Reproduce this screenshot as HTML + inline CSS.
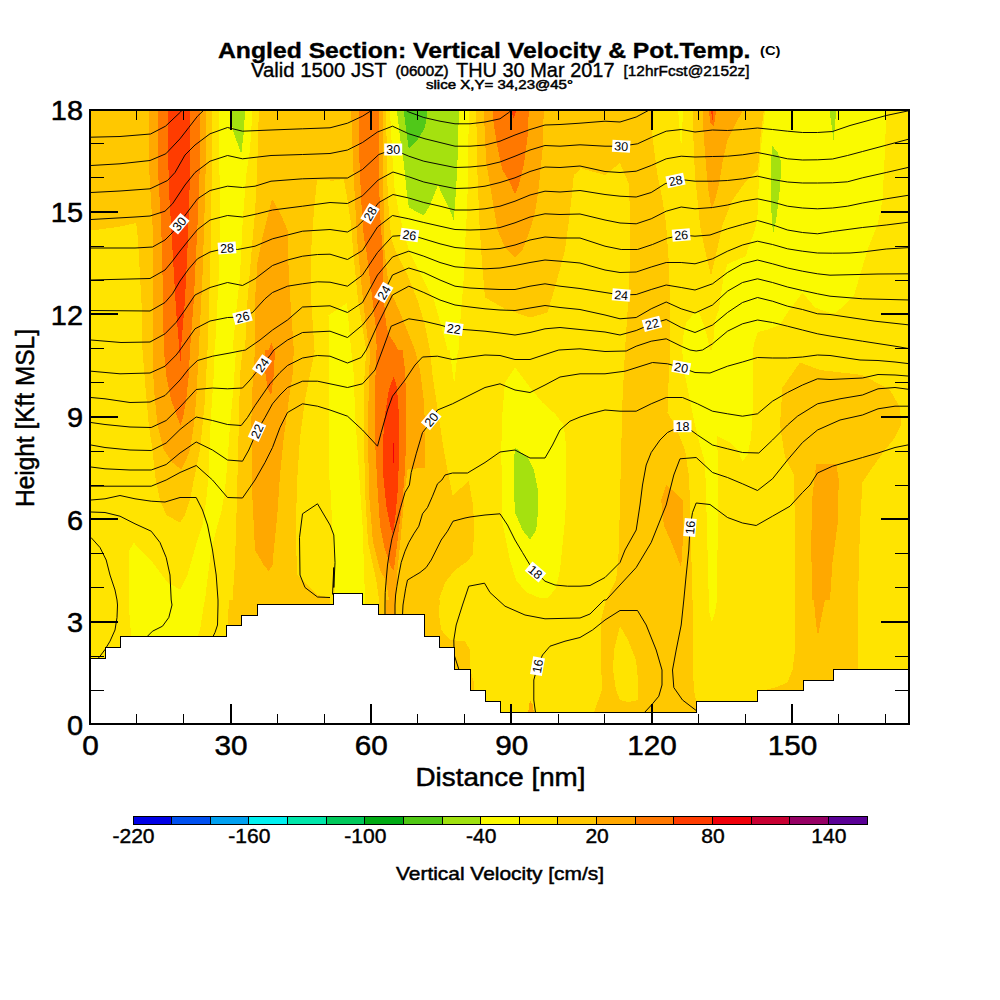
<!DOCTYPE html><html><head><meta charset="utf-8"><title>Angled Section</title>
<style>html,body{margin:0;padding:0;background:#fff}svg{display:block}text{font-family:"Liberation Sans",sans-serif;fill:#000}</style></head><body>
<svg width="1000" height="1000" viewBox="0 0 1000 1000">
<rect width="1000" height="1000" fill="#fff"/>
<defs><clipPath id="pc"><rect x="90.10" y="109.75" width="818.90" height="614.00"/></clipPath></defs>
<g clip-path="url(#pc)" shape-rendering="crispEdges">
<rect x="90" y="109" width="820" height="616" fill="#ffe400"/>
<polygon fill="#fafa00" points="218.8,111.0 252.5,111.0 250.0,150.0 246.2,175.0 242.5,225.0 240.0,275.0 236.2,312.5 232.5,350.0 215.0,350.0 216.2,325.0 218.8,275.0 220.0,225.0 219.5,175.0"/>
<polygon fill="#fafa00" points="328.5,315.5 347.0,303.0 348.8,325.0 351.2,350.0 328.5,350.0"/>
<polygon fill="#fafa00" points="390.0,111.0 468.8,111.0 468.0,175.0 467.0,212.5 466.0,225.0 464.0,275.0 462.0,300.0 460.0,325.0 458.8,350.0 447.5,350.0 441.0,325.0 433.8,300.0 421.0,275.0 408.8,250.0 403.8,232.5 398.8,212.5 394.5,187.5 392.0,150.0"/>
<polygon fill="#fafa00" points="678.2,111.0 683.0,111.0 681.2,150.0"/>
<polygon fill="#fafa00" points="765.0,111.0 830.0,111.0 830.0,313.0 815.0,307.5 802.5,292.5 787.5,312.5 780.0,325.0 766.2,330.0 758.0,332.0 755.0,340.0 753.0,350.0 712.0,350.0 713.8,337.5 715.0,320.0 718.8,310.0 721.0,294.0 723.8,275.0 727.5,264.0 746.0,256.0 747.5,250.0 755.0,230.0 758.0,212.5 758.8,175.0 762.0,137.5"/>
<polygon fill="#fafa00" points="696.2,311.2 700.0,315.0 703.8,325.0 707.5,337.5 710.0,350.0 682.0,350.0 683.0,337.5 686.2,322.5"/>
<polygon fill="#fafa00" points="830.0,111.0 886.2,111.0 885.0,150.0 882.5,200.0 877.5,225.0 867.5,250.0 860.0,275.0 853.8,296.2 845.0,305.0 835.0,313.0 830.0,313.0"/>
<polygon fill="#fafa00" points="214.5,350.0 236.0,350.0 233.5,387.5 230.0,425.0 227.5,462.5 225.0,490.0 221.2,512.5 216.2,530.0 211.2,550.0 208.0,575.0 205.0,600.0 129.2,600.0 129.5,550.0 133.8,542.5 140.0,550.0 152.5,562.5 167.5,582.5 180.0,589.5 187.5,575.0 192.5,557.5 197.5,540.0 202.5,525.0 206.2,500.0 208.8,475.0 209.5,450.0 210.5,425.0 212.0,400.0 213.8,375.0"/>
<polygon fill="#fafa00" points="328.5,350.0 351.2,350.0 353.8,375.0 355.0,412.5 357.5,450.0 360.0,487.5 362.5,525.0 363.8,562.5 365.0,600.0 335.0,600.0 333.5,550.0 330.5,490.0 328.5,470.0"/>
<polygon fill="#fafa00" points="449.5,350.0 458.0,350.0 454.2,383.8"/>
<polygon fill="#fafa00" points="515.0,367.5 530.0,387.5 542.5,402.5 555.0,413.8 563.8,425.0 566.5,450.0 566.0,500.0 565.0,520.0 563.0,540.0 560.0,570.0 556.0,588.0 548.0,598.0 540.0,598.0 526.0,592.0 516.0,580.0 510.0,560.0 506.0,540.0 502.0,520.0 502.0,487.5 501.2,450.0 502.5,412.5 505.0,382.5"/>
<polygon fill="#fafa00" points="682.0,350.0 753.0,350.0 752.5,375.0 752.5,412.5 751.2,437.5 747.5,455.0 742.5,461.2 737.5,450.0 730.0,442.5 717.0,436.2 717.5,450.0 717.5,500.0 717.5,550.0 717.0,600.0 708.8,600.0 707.5,550.0 706.2,500.0 705.0,462.5 700.0,445.0 695.0,425.0 690.0,400.0 685.0,375.0"/>
<polygon fill="#fafa00" points="129.2,600.0 205.0,600.0 203.8,605.0 200.0,630.0 197.5,637.5 131.2,637.5 128.8,605.0"/>
<polygon fill="#fafa00" points="335.0,600.0 365.0,600.0 365.5,605.0 335.0,605.0"/>
<polygon fill="#fafa00" points="708.8,600.0 717.0,600.0 715.0,612.5 711.8,622.5 709.5,612.5"/>
<polygon fill="#ffc800" points="91.0,111.0 211.8,111.0 211.8,162.5 211.2,225.0 210.0,275.0 207.5,350.0 142.5,350.0 142.0,312.5 140.0,275.0 138.0,240.0 136.2,223.0 117.5,227.0 91.0,230.5"/>
<polygon fill="#ffc800" points="258.8,111.0 330.0,111.0 330.0,180.5 317.0,179.5 313.8,212.5 311.2,250.0 311.2,300.0 314.5,350.0 245.0,350.0 247.5,300.0 252.5,240.0 255.0,212.5 257.0,175.0"/>
<polygon fill="#ffc800" points="330.0,111.0 386.2,111.0 387.0,175.0 388.8,212.5 391.2,237.5 395.0,250.0 407.5,275.0 417.5,300.0 425.0,325.0 430.0,350.0 366.2,350.0 358.0,300.0 353.0,250.0 351.2,225.0 347.5,200.0 343.8,178.8 330.0,181.2"/>
<polygon fill="#ffc800" points="476.2,111.0 580.0,111.0 580.0,170.0 573.8,175.0 570.0,212.5 565.0,250.0 555.0,287.5 547.5,312.5 530.0,317.5 505.0,308.8 485.0,297.5 482.0,262.5 479.5,225.0 477.5,175.0"/>
<polygon fill="#ffc800" points="580.0,111.0 651.2,111.0 652.5,137.5 657.5,175.0 662.5,200.0 666.2,225.0 668.8,262.5 670.0,300.0 670.5,350.0 625.0,350.0 627.5,312.5 630.0,262.5 630.0,212.5 628.8,183.8 620.0,163.0 605.0,175.0 580.0,168.0"/>
<polygon fill="#ffc800" points="692.5,111.0 763.8,111.0 760.5,137.5 758.0,170.0 745.0,182.5 732.5,200.0 722.5,225.0 717.0,250.0 711.0,275.8 705.0,250.0 700.0,225.0 697.5,200.0 695.0,175.0 693.8,150.0"/>
<polygon fill="#ffc800" points="142.5,350.0 207.5,350.0 206.2,375.0 205.0,400.0 202.5,425.0 200.0,450.0 197.5,462.5 193.8,480.0 190.0,500.0 185.0,515.0 180.0,522.5 166.2,515.0 160.0,500.0 155.0,475.0 152.5,450.0 148.8,425.0 145.5,387.5"/>
<polygon fill="#ffc800" points="242.5,350.0 315.0,350.0 310.0,375.0 305.0,400.0 300.0,437.5 297.5,475.0 296.2,512.5 296.2,550.0 297.5,575.0 317.5,595.0 330.0,597.5 330.0,600.0 232.5,600.0 235.0,562.5 236.2,525.0 237.5,475.0 238.8,425.0 240.0,375.0"/>
<polygon fill="#ffc800" points="366.2,350.0 430.0,350.0 432.5,375.0 436.2,400.0 440.0,425.0 443.8,450.0 447.5,470.0 452.5,495.5 468.8,481.2 473.0,505.0 474.5,530.0 472.5,555.0 467.5,561.2 455.0,570.0 445.0,582.5 438.8,600.0 379.2,600.0 376.2,580.0 368.0,542.5 365.5,500.0 364.5,462.5 363.8,425.0 363.8,387.5"/>
<polygon fill="#ffc800" points="625.0,350.0 670.5,350.0 668.8,375.0 667.5,412.5 675.0,425.0 680.0,437.5 685.0,450.0 688.8,475.0 690.0,500.0 691.2,550.0 692.5,600.0 606.0,600.0 616.0,580.0 618.0,562.5 618.8,550.0 620.0,500.0 621.2,450.0 622.5,400.0"/>
<polygon fill="#ffc800" points="782.5,387.5 800.0,362.5 820.0,370.0 862.5,375.0 890.0,390.0 900.0,407.5 901.2,425.0 895.0,437.5 885.0,450.0 872.5,467.5 862.5,482.5 860.0,525.0 858.0,600.0 795.0,600.0 795.0,525.0 793.8,475.0 785.0,457.5 780.0,425.0"/>
<polygon fill="#ffc800" points="229.2,600.0 330.0,600.0 330.0,637.5 227.0,637.5 228.0,615.0"/>
<polygon fill="#ffc800" points="379.2,600.0 440.0,600.0 438.8,612.5 441.2,630.0 450.0,640.0 465.0,641.2 470.0,650.0 470.5,670.0 473.8,682.5 473.8,691.2 453.8,691.2 453.8,647.5 423.8,647.5 423.8,616.2 379.2,616.2"/>
<polygon fill="#ffc800" points="606.0,600.0 692.5,600.0 693.0,625.0 692.5,650.0 693.8,690.0 696.2,701.2 696.2,712.5 593.8,712.5 602.0,690.0 601.0,660.0 601.0,620.0"/>
<polygon fill="#ffc800" points="795.0,600.0 858.0,600.0 858.0,670.0 832.5,670.0 832.5,681.2 802.5,681.2 802.5,691.2 760.0,691.2 775.0,687.5 787.5,682.5 792.5,670.0 795.0,650.0"/>
<polygon fill="#ffa800" points="148.8,111.0 205.8,111.0 205.8,162.5 204.2,225.0 202.5,275.0 198.8,350.0 152.5,350.0 152.5,300.0 152.5,225.0 149.5,175.0"/>
<polygon fill="#ffa800" points="272.0,198.8 280.0,212.5 287.5,230.0 288.8,275.0 291.2,312.5 293.8,350.0 255.0,350.0 255.0,300.0 257.5,262.5 262.5,237.5"/>
<polygon fill="#ffa800" points="351.2,111.0 382.5,111.0 383.0,175.0 383.8,212.5 384.5,250.0 388.8,287.5 400.0,312.5 410.0,337.5 415.0,350.0 370.0,350.0 367.5,337.5 363.0,300.0 358.0,250.0 357.0,237.5 355.0,200.0 353.0,162.5"/>
<polygon fill="#ffa800" points="483.8,111.0 543.8,111.0 542.5,150.0 538.8,187.5 535.0,212.5 530.0,230.0 522.5,250.0 515.0,257.0 505.0,247.5 497.5,230.0 492.5,200.0 486.2,162.5"/>
<polygon fill="#ffa800" points="702.5,111.0 742.5,111.0 735.0,125.0 727.5,140.0 722.5,162.5 718.8,185.0 715.0,200.0 711.5,209.2 708.0,187.5 705.8,162.5 703.8,137.5"/>
<polygon fill="#ffa800" points="152.5,350.0 198.8,350.0 197.5,375.0 196.2,400.0 193.8,425.0 190.0,450.0 185.0,462.5 181.2,469.5 172.5,462.5 163.8,450.0 157.5,425.0 153.8,387.5"/>
<polygon fill="#ffa800" points="255.0,350.0 293.8,350.0 292.5,375.0 288.8,400.0 283.8,437.5 280.0,475.0 277.5,512.5 273.8,550.0 272.5,565.0 268.8,571.2 263.8,565.0 255.0,550.0 252.5,500.0 252.0,462.5 251.2,425.0 252.5,387.5"/>
<polygon fill="#ffa800" points="370.0,350.0 415.0,350.0 420.0,370.0 423.8,400.0 425.0,425.0 425.0,467.5 407.5,469.5 405.0,490.0 403.0,512.5 400.5,540.0 397.5,570.0 395.5,600.0 388.8,600.0 388.0,592.5 385.5,580.0 380.0,570.0 373.0,542.5 369.5,500.0 368.5,462.5 368.0,425.0 368.8,387.5"/>
<polygon fill="#ffa800" points="666.2,485.0 675.0,492.5 682.5,500.0 683.0,537.5 681.2,567.5 672.5,545.0 663.8,525.0 661.2,500.0"/>
<polygon fill="#ffa800" points="816.2,463.8 836.2,463.8 838.8,480.0 837.5,525.0 832.5,562.5 830.0,600.0 812.5,600.0 811.2,550.0 812.0,500.0 815.0,475.0"/>
<polygon fill="#ffa800" points="385.5,600.0 395.5,600.0 394.5,616.2 386.5,616.2"/>
<polygon fill="#ffa800" points="530.0,700.0 533.0,705.0 533.8,712.5 528.2,712.5"/>
<polygon fill="#ffa800" points="811.2,600.0 825.0,600.0 820.0,625.0 818.0,636.2 816.2,625.0 813.8,600.0"/>
<polygon fill="#ff7800" points="158.2,111.0 200.0,111.0 199.5,175.0 197.5,225.0 193.8,300.0 190.0,350.0 163.8,350.0 162.5,275.0 161.2,225.0 158.2,175.0"/>
<polygon fill="#ff7800" points="271.2,342.5 273.8,350.0 268.8,350.0"/>
<polygon fill="#ff7800" points="358.8,111.0 378.8,111.0 378.8,175.0 380.0,212.5 382.5,250.0 383.8,300.0 386.2,325.0 388.8,335.0 395.0,343.8 398.0,350.0 376.8,350.0 375.5,325.0 372.5,300.0 366.2,250.0 363.8,237.5 361.2,200.0 359.5,162.5"/>
<polygon fill="#ff7800" points="492.5,111.0 528.8,111.0 527.5,137.5 523.8,165.0 518.8,185.0 515.0,194.5 510.0,182.5 502.5,170.0 498.0,150.0 493.8,125.0"/>
<polygon fill="#ff7800" points="708.8,111.0 716.2,111.0 713.8,126.2 710.5,122.5"/>
<polygon fill="#ff7800" points="163.8,350.0 190.0,350.0 188.8,375.0 186.2,400.0 183.0,417.5 180.5,425.0 177.5,417.5 171.2,400.0 166.2,375.0"/>
<polygon fill="#ff7800" points="265.0,350.0 275.0,350.0 273.8,375.0 271.2,395.0 267.5,387.5 265.0,370.0"/>
<polygon fill="#ff7800" points="376.2,350.0 402.5,350.0 405.0,370.0 406.2,400.0 406.2,437.5 405.0,470.0 402.5,500.0 398.8,530.0 395.5,557.5 393.8,570.0 391.2,567.5 385.0,550.0 380.0,525.0 377.5,487.5 375.5,450.0 375.0,412.5 375.5,375.0"/>
<polygon fill="#ff3c00" points="167.5,111.0 190.5,111.0 190.0,175.0 188.0,237.5 185.0,300.0 180.8,350.0 179.5,350.0 176.2,312.5 172.5,250.0 168.8,187.5"/>
<polygon fill="#ff3c00" points="511.2,111.0 516.2,111.0 513.8,118.8"/>
<polygon fill="#ff3c00" points="711.0,111.0 713.5,111.0 712.5,120.0"/>
<polygon fill="#ff3c00" points="179.2,350.0 181.2,350.0 180.5,361.2"/>
<polygon fill="#ff3c00" points="393.8,376.2 397.0,387.5 398.8,412.5 399.2,450.0 398.0,487.5 395.5,515.0 393.0,534.5 390.0,525.0 386.2,505.0 383.2,475.0 382.5,450.0 384.5,417.5 388.8,390.0"/>
<polygon fill="#f0000a" points="392.5,442.5 393.8,442.5 393.8,462.5 392.5,462.5"/>
<polygon fill="#a5e10f" points="230.0,111.0 245.0,111.0 243.8,132.5 241.2,154.5 233.0,130.0"/>
<polygon fill="#a5e10f" points="397.0,111.0 458.8,111.0 458.0,150.0 456.2,187.5 453.8,221.2 450.0,210.0 442.5,195.0 438.0,185.0 430.0,205.0 423.8,215.5 408.8,207.5 406.2,187.5 403.8,162.5 400.0,137.5"/>
<polygon fill="#a5e10f" points="772.0,145.8 777.0,151.2 781.5,162.5 780.0,187.5 776.2,220.0 773.0,233.8 771.5,212.5 771.2,162.5"/>
<polygon fill="#a5e10f" points="829.5,111.0 836.2,111.0 835.0,125.0 833.5,140.5 831.5,125.0"/>
<polygon fill="#a5e10f" points="515.0,447.5 527.5,457.5 533.8,470.0 537.5,487.5 538.0,512.5 536.2,530.0 530.0,539.5 522.5,530.0 515.0,512.5 513.8,487.5 513.8,462.5"/>
<polygon fill="#50c819" points="403.8,111.0 427.5,111.0 425.0,127.5 417.5,140.0 408.8,148.8 406.2,130.0"/>
<polygon fill="#ffe400" points="620.0,626.0 628.0,640.0 636.0,660.0 638.0,680.0 638.0,700.0 628.0,702.0 620.0,700.0 616.0,690.0 613.0,670.0 614.0,650.0"/>
</g>
<g clip-path="url(#pc)" fill="none" stroke="#000" stroke-width="0.95" stroke-linejoin="round">
<polyline points="91.0,137.2 120.0,136.5 150.5,134.0 165.5,126.2 180.5,112.0 183.0,109.0"/>
<polyline points="91.0,165.5 120.0,163.8 150.0,160.5 165.8,153.8 180.0,138.8 188.8,127.5 197.5,116.2 205.0,109.0"/>
<polyline points="91.0,192.5 120.0,191.0 150.0,188.8 167.5,180.5 175.0,172.5 185.0,155.0 195.0,145.0 210.0,133.8 227.5,127.5 242.5,131.2 271.0,130.0 302.5,128.8 330.0,127.8 347.5,123.2 362.5,116.2 373.8,109.0"/>
<polyline points="403.8,109.0 408.8,112.0 423.8,117.5 440.0,121.2 455.0,123.8 470.0,123.8 485.0,122.0 500.0,118.8 508.8,112.5 512.5,109.0"/>
<polyline points="91.0,219.5 135.0,217.0 150.0,216.0 165.0,211.2 172.5,203.8 185.0,185.0 195.0,172.5 210.0,161.2 227.5,155.5 242.5,158.8 271.0,155.5 302.5,154.5 330.0,153.5 347.5,150.0 362.5,142.5 377.5,132.0 392.5,126.2 408.8,133.8 425.0,138.8 440.0,142.5 455.0,146.2 470.0,146.2 485.0,145.0 500.0,141.2 515.0,135.0 530.0,129.5 545.0,125.0 560.0,124.5 580.0,123.2 605.0,121.2 620.0,122.0 636.2,117.0 651.2,109.0"/>
<polyline points="91.0,248.0 135.0,248.0 152.5,247.0 165.0,240.0 172.5,232.5 186.2,213.8 197.5,198.8 210.0,190.5 227.5,186.2 242.5,187.5 255.0,186.2 271.0,181.2 302.5,178.8 330.0,178.0 347.5,178.0 362.5,169.5 378.8,154.5 393.2,149.5 408.8,156.2 423.8,161.2 440.0,164.5 455.0,167.5 470.0,167.0 485.0,165.5 500.0,162.0 515.0,156.2 530.0,150.0 545.0,145.5 560.0,146.2 580.0,144.8 605.0,146.2 621.2,146.2 637.5,143.8 651.2,137.5 666.2,131.2 681.2,129.5 695.0,132.0 712.5,130.0 727.5,130.5 742.5,129.5 757.5,128.0 772.5,129.5 787.5,131.2 802.5,132.5 817.5,132.5 832.5,131.5 850.0,125.5 870.0,120.0 886.2,115.5 910.0,110.5"/>
<polyline points="91.0,280.0 150.0,278.5 165.0,270.0 172.5,261.0 180.0,251.0 188.8,240.0 197.5,229.5 210.0,220.0 227.5,215.5 242.5,217.0 257.5,213.8 272.5,210.0 302.5,206.2 330.0,202.5 347.5,203.5 362.5,195.8 378.2,180.0 393.0,172.0 408.8,176.8 423.8,182.0 440.0,185.5 455.0,188.5 470.0,188.0 485.0,186.2 500.0,182.5 515.0,177.8 530.0,171.5 545.0,167.0 560.0,167.5 580.0,166.0 605.0,171.5 620.0,172.5 636.2,171.2 651.2,165.5 666.2,158.8 681.2,156.2 695.0,157.0 712.5,156.5 727.5,156.2 742.5,154.8 757.5,152.5 772.5,155.5 787.5,158.8 802.5,160.0 817.5,159.8 832.5,159.0 847.5,155.5 862.5,151.5 886.2,145.2 910.0,138.8"/>
<polyline points="91.0,310.5 150.0,311.0 165.0,302.5 172.5,293.8 180.0,281.0 188.8,268.8 197.5,258.8 210.0,252.0 227.0,248.0 237.5,249.5 255.0,246.2 272.5,238.8 287.5,235.0 302.5,231.2 330.0,229.5 347.5,232.0 357.5,226.2 370.0,213.8 378.8,202.5 393.0,194.5 408.8,198.0 423.8,202.5 440.0,206.2 455.0,210.0 470.0,210.0 485.0,208.8 500.0,206.2 515.0,201.2 530.0,195.0 545.0,191.2 560.0,192.0 580.0,190.5 605.0,194.5 620.0,196.2 636.2,197.0 651.2,192.5 665.0,183.8 675.5,180.5 685.0,180.0 695.0,181.2 712.5,181.2 727.5,180.5 742.5,178.8 757.5,176.2 772.5,179.5 787.5,182.0 802.5,183.0 817.5,183.0 832.5,182.8 847.5,181.8 862.5,177.8 886.2,172.5 910.0,167.0"/>
<polyline points="91.0,340.0 121.0,342.5 150.0,342.0 165.0,333.8 176.0,322.5 185.0,310.0 195.0,295.0 210.0,287.5 227.5,282.5 242.5,285.5 255.0,278.8 272.5,265.5 287.5,260.0 302.5,256.2 317.5,254.5 330.0,254.2 347.5,259.5 362.5,250.5 377.5,227.0 392.5,215.5 408.8,218.8 423.8,222.5 440.0,226.2 455.0,229.5 470.0,230.0 485.0,229.5 500.0,227.5 515.0,222.8 530.0,217.0 545.0,213.8 560.0,214.5 580.0,214.0 605.0,220.0 620.0,223.0 636.2,223.8 651.2,218.8 666.2,211.2 681.2,207.0 695.0,208.8 712.5,207.5 727.5,205.0 742.5,201.2 757.5,198.8 772.5,202.0 787.5,206.2 802.5,208.0 817.5,208.8 832.5,208.0 847.5,206.2 862.5,203.0 886.2,198.8 910.0,195.0"/>
<polyline points="91.0,371.2 120.0,373.8 150.0,373.0 165.0,366.2 176.2,355.0 180.0,350.0 195.0,328.8 210.0,321.0 227.5,317.5 242.5,317.0 252.5,312.5 265.0,298.8 272.5,292.5 287.5,286.2 302.5,283.8 317.5,281.8 330.0,282.2 347.5,286.2 362.5,275.0 377.5,252.5 392.5,236.2 409.5,235.0 417.5,237.0 440.0,243.8 455.0,247.5 470.0,248.8 485.0,249.5 500.0,248.5 515.0,245.0 530.0,240.0 545.0,237.0 560.0,238.0 580.0,238.0 605.0,246.2 621.2,249.5 637.5,249.5 652.5,244.5 667.5,238.2 681.2,235.0 695.0,236.2 710.0,235.0 727.5,228.8 742.5,224.5 757.5,220.5 772.5,224.8 787.5,230.0 802.5,232.5 817.5,233.8 832.5,231.5 862.5,227.5 886.2,225.0 910.0,222.0"/>
<polyline points="91.0,397.5 105.0,398.8 130.0,402.5 150.0,402.0 165.0,395.5 180.0,380.0 188.8,368.8 197.5,360.5 212.5,356.2 230.0,353.0 242.5,350.5 245.5,350.0 260.0,340.0 272.5,330.0 287.5,320.0 302.5,307.0 330.0,305.8 347.5,312.5 362.5,302.5 377.5,275.0 392.5,257.0 408.8,251.2 423.8,256.2 440.0,262.5 455.0,266.8 470.0,268.0 485.0,268.8 500.0,268.0 515.0,265.5 530.0,262.5 545.0,260.0 560.0,261.2 580.0,263.0 605.0,270.0 620.0,272.5 636.2,272.0 651.2,267.0 666.2,262.5 681.2,262.5 695.0,263.8 712.5,258.8 727.5,251.2 742.5,245.0 757.5,241.2 772.5,244.5 787.5,248.8 802.5,251.2 817.5,253.0 832.5,253.2 850.0,253.0 862.5,252.0 886.2,249.0 910.0,247.5"/>
<polyline points="91.0,422.5 105.0,424.5 130.0,427.0 151.2,427.5 166.2,420.5 180.0,407.0 188.8,397.5 196.2,389.5 212.5,388.0 227.5,388.8 242.5,388.0 250.0,380.0 255.0,373.8 262.0,365.0 270.0,355.5 273.8,350.0 287.5,340.0 302.5,332.5 330.0,331.2 347.5,337.5 362.5,325.0 372.5,312.5 383.8,292.5 392.5,275.0 408.8,268.0 423.8,272.5 440.0,280.0 455.0,286.2 470.0,288.0 485.0,288.8 500.0,289.5 515.0,289.5 530.0,286.2 545.0,283.8 560.0,286.2 580.0,288.5 605.0,292.5 621.2,295.0 636.2,294.5 651.2,289.5 666.2,285.0 681.2,287.5 695.0,290.0 712.5,283.8 727.5,272.5 742.5,263.8 757.5,260.0 772.5,263.8 787.5,268.0 802.5,271.2 817.5,273.8 830.0,275.2 878.0,274.0 910.0,273.8"/>
<polyline points="91.0,445.0 105.0,447.5 130.0,450.0 151.2,450.5 166.2,443.0 180.0,429.5 188.8,422.5 196.2,417.0 212.5,420.5 227.5,424.5 241.2,425.5 247.5,417.5 255.0,405.5 270.0,383.8 280.0,372.5 287.5,365.5 302.5,358.0 317.5,355.5 330.0,356.2 347.5,363.0 361.2,357.5 366.2,350.0 377.5,325.0 392.5,295.0 408.8,286.2 423.8,292.5 440.0,300.0 455.0,305.0 470.0,307.0 485.0,308.8 500.0,310.0 515.0,310.5 530.0,308.0 545.0,305.5 560.0,307.5 580.0,309.5 605.0,315.0 620.0,318.8 636.2,317.5 651.2,308.8 666.2,302.0 681.2,308.8 695.0,313.0 712.5,305.0 727.5,291.2 742.5,282.5 757.5,278.8 772.5,282.5 787.5,287.0 802.5,290.5 817.5,293.8 830.0,296.2 862.5,298.8 910.0,300.0"/>
<polyline points="91.0,467.0 105.0,468.8 130.0,470.0 151.2,470.0 166.2,464.5 180.0,453.0 196.2,442.0 212.5,450.0 227.5,460.0 242.5,461.2 248.8,450.0 257.0,431.2 265.0,417.5 272.5,403.8 280.0,395.0 287.5,387.5 302.5,381.2 317.5,381.2 330.0,383.8 347.5,387.5 362.5,383.8 375.0,370.0 382.5,350.0 391.2,326.2 408.8,318.8 423.8,321.2 440.0,325.0 453.8,328.8 470.0,330.0 485.0,331.2 500.0,333.0 515.0,335.0 530.0,332.5 545.0,328.8 560.0,327.5 580.0,329.5 605.0,332.0 620.0,335.0 636.2,330.5 652.0,323.8 666.2,319.5 681.2,327.5 695.0,332.5 712.5,325.0 727.5,312.5 742.5,302.5 757.5,297.5 772.5,301.2 787.5,306.2 802.5,309.5 817.5,313.8 830.0,314.5 850.0,317.5 875.0,321.2 910.0,325.0"/>
<polyline points="91.0,486.2 105.0,486.2 130.0,486.2 151.2,486.2 166.2,480.0 180.0,472.5 196.2,465.5 212.5,480.0 227.5,497.5 242.5,498.0 255.0,480.0 265.0,462.5 272.5,447.5 280.0,427.5 287.5,412.5 302.5,403.8 317.5,406.2 330.0,410.0 347.5,416.2 362.5,430.0 377.5,446.2 381.2,432.5 387.5,410.0 392.5,396.2 405.0,380.0 415.0,365.0 422.5,357.0 437.5,356.2 452.5,359.5 470.0,357.0 485.0,355.0 500.0,355.5 515.0,359.5 530.0,359.5 545.0,354.5 555.0,351.2 558.8,350.0 580.0,348.8 605.0,351.5 626.2,351.0 636.2,346.2 651.2,341.2 666.2,338.8 681.2,346.2 690.0,350.0 696.2,351.0 702.5,350.0 712.5,343.8 727.5,331.2 742.5,323.8 757.5,320.0 772.5,322.5 787.5,326.2 802.5,330.0 817.5,333.8 830.0,336.0 862.5,341.2 895.0,346.2 910.0,348.8"/>
<polyline points="91.0,500.0 105.0,498.8 120.0,495.5 135.0,498.8 151.2,501.2 165.0,502.0 180.0,497.5 196.2,497.5 202.5,510.0 207.5,525.0 212.5,550.0 216.2,575.0 218.0,600.0 218.0,605.0 217.5,625.0 215.0,632.5 212.5,637.5"/>
<polyline points="385.0,615.0 385.0,605.0 385.2,592.5 386.2,580.0 387.5,565.0 389.4,552.5 391.9,538.8 396.2,523.8 400.6,507.5 405.0,492.5 409.4,485.0 411.2,472.5 416.2,453.8 422.5,432.5 426.2,428.0 431.2,419.5 437.5,410.0 452.5,403.8 470.0,395.0 485.0,387.5 500.0,383.8 515.0,390.0 530.0,392.5 545.0,385.0 560.0,377.0 580.0,373.8 605.0,373.8 625.0,371.2 652.5,362.5 667.5,363.8 681.2,367.5 695.0,372.5 710.0,373.0 727.5,366.2 742.5,362.0 757.5,357.5 772.5,358.0 787.5,358.0 802.5,357.0 817.5,355.0 830.0,355.5 860.0,360.0 878.0,360.5 895.0,362.0 910.0,363.8"/>
<polyline points="91.0,512.0 105.0,512.5 120.0,516.2 135.0,523.8 151.2,531.2 160.0,542.5 166.2,557.5 170.0,575.0 171.2,600.0 172.0,605.0 168.8,617.5 162.5,626.2 152.5,631.2 146.2,637.5"/>
<polyline points="330.0,597.5 317.5,597.0 305.0,587.5 300.0,575.0 299.5,537.5 302.5,513.8 317.5,503.8 330.0,525.0 333.8,535.0 335.0,562.5 333.8,587.5 333.8,567.5 332.5,594.5"/>
<polyline points="395.0,615.0 395.0,605.0 395.6,595.0 396.9,586.2 398.8,575.0 401.2,562.5 405.0,551.2 408.8,542.5 413.8,533.8 418.8,526.2 422.5,513.8 427.5,507.5 432.5,496.2 437.5,483.8 441.9,480.0 445.0,475.0 452.5,473.0 467.5,473.0 485.0,462.5 500.0,452.0 515.0,450.0 530.0,458.0 545.0,458.0 552.5,445.0 560.0,430.0 570.0,421.2 580.0,417.0 590.0,413.8 605.0,410.0 620.0,411.2 636.2,411.2 651.2,403.8 666.2,397.5 682.5,397.5 697.5,403.8 712.5,411.2 727.5,413.8 742.5,416.2 757.5,413.8 772.5,401.2 787.5,392.5 802.5,385.0 817.5,378.8 830.0,379.5 862.5,378.0 878.0,374.5 895.0,375.0 910.0,376.2"/>
<polyline points="91.0,537.5 100.0,547.5 106.2,560.0 110.0,575.0 115.0,590.0 117.0,600.0 117.5,605.0 117.0,617.5 115.0,630.0 110.0,641.2 105.0,649.5 100.0,656.2 98.0,658.5"/>
<polyline points="402.5,615.0 403.0,605.0 404.0,598.8 405.6,588.8 407.5,580.0 413.8,576.2 420.0,572.5 426.2,567.5 431.2,560.0 436.2,550.0 441.2,540.0 447.5,531.2 453.0,521.2 465.0,518.0 470.0,517.0 485.0,515.0 500.0,513.8 507.5,525.0 515.0,540.0 522.5,552.5 530.0,565.0 535.5,572.0 545.0,581.2 555.0,585.0 567.5,586.2 580.0,586.2 590.0,585.5 605.0,577.5 620.0,562.5 625.0,550.0 636.2,530.0 640.0,505.0 642.5,485.0 646.2,465.0 651.2,452.5 660.0,440.0 667.5,432.5 673.8,429.5 682.5,426.2 690.0,429.5 697.5,435.0 712.5,445.0 727.5,448.8 742.5,452.5 758.8,453.0 772.5,440.0 787.5,425.0 797.5,416.2 817.5,403.8 840.0,398.8 862.5,395.0 878.0,388.8 895.0,387.5 910.0,389.5"/>
<polyline points="458.8,669.2 454.2,655.0 453.8,640.0 456.2,625.0 462.5,605.0 468.8,586.2 484.5,583.2 490.0,592.5 505.0,606.2 525.0,615.0 545.0,618.8 580.0,618.0 590.0,614.0 604.0,600.0 606.2,600.0 620.0,585.0 636.2,567.5 651.2,542.5 666.2,505.0 673.8,475.0 680.0,458.8 696.2,457.5 712.5,472.5 727.5,477.5 742.5,483.8 757.5,490.5 772.5,478.8 787.5,460.0 802.5,442.5 817.5,430.0 840.0,420.0 862.5,415.0 878.0,408.8 895.0,406.2 910.0,406.2"/>
<polyline points="535.5,712.5 533.8,700.0 533.8,680.0 537.5,666.2 542.5,655.0 550.0,646.2 565.0,641.2 580.0,637.5 592.5,630.0 605.0,620.0 620.0,610.5 637.5,610.5 646.2,625.0 656.2,650.0 662.0,670.0 662.0,685.0 658.8,696.2 652.5,703.8 644.5,712.5"/>
<polyline points="696.2,710.5 682.5,700.0 673.8,687.5 672.5,670.0 676.2,650.0 681.2,625.0 683.8,600.0 686.2,575.0 688.8,550.0 690.0,527.5 692.5,512.5 696.2,503.0 710.0,504.5 727.5,517.5 742.5,523.0 756.2,525.5 772.5,516.2 790.0,506.2 802.5,492.5 810.0,485.0 817.5,473.0 832.5,466.2 862.5,457.5 878.0,453.0 895.0,447.5 910.0,444.5"/>
</g>
<g shape-rendering="crispEdges">
<path d="M90.1,723.8 L90.1,658.0 L105.0,658.0 L105.0,647.0 L120.5,647.0 L120.5,636.5 L226.0,636.5 L226.0,625.5 L241.5,625.5 L241.5,615.0 L257.0,615.0 L257.0,604.0 L333.0,604.0 L333.0,593.5 L362.0,593.5 L362.0,604.0 L378.0,604.0 L378.0,614.5 L424.0,614.5 L424.0,636.5 L439.0,636.5 L439.0,647.0 L454.0,647.0 L454.0,669.0 L470.0,669.0 L470.0,690.0 L485.0,690.0 L485.0,701.0 L500.0,701.0 L500.0,712.0 L696.0,712.0 L696.0,701.0 L757.0,701.0 L757.0,690.0 L803.0,690.0 L803.0,680.0 L833.0,680.0 L833.0,669.0 L909.0,669.0 L909.0,723.8 Z" fill="#fff" stroke="none"/>
<polyline points="90.1,658.0 105.0,658.0 105.0,647.0 120.5,647.0 120.5,636.5 226.0,636.5 226.0,625.5 241.5,625.5 241.5,615.0 257.0,615.0 257.0,604.0 333.0,604.0 333.0,593.5 362.0,593.5 362.0,604.0 378.0,604.0 378.0,614.5 424.0,614.5 424.0,636.5 439.0,636.5 439.0,647.0 454.0,647.0 454.0,669.0 470.0,669.0 470.0,690.0 485.0,690.0 485.0,701.0 500.0,701.0 500.0,712.0 696.0,712.0 696.0,701.0 757.0,701.0 757.0,690.0 803.0,690.0 803.0,680.0 833.0,680.0 833.0,669.0 909.0,669.0" fill="none" stroke="#000" stroke-width="1"/>
</g>
<g transform="translate(179.2,223.8) rotate(-50.0)"><rect x="-9" y="-6" width="18" height="12" fill="#fff"/><text x="0" y="4.5" font-size="12.5" text-anchor="middle">30</text></g>
<g transform="translate(227.0,248.0) rotate(-4.0)"><rect x="-9" y="-6" width="18" height="12" fill="#fff"/><text x="0" y="4.5" font-size="12.5" text-anchor="middle">28</text></g>
<g transform="translate(242.5,317.0) rotate(-15.0)"><rect x="-9" y="-6" width="18" height="12" fill="#fff"/><text x="0" y="4.5" font-size="12.5" text-anchor="middle">26</text></g>
<g transform="translate(393.2,149.5) rotate(0.0)"><rect x="-9" y="-6" width="18" height="12" fill="#fff"/><text x="0" y="4.5" font-size="12.5" text-anchor="middle">30</text></g>
<g transform="translate(370.0,213.8) rotate(-60.0)"><rect x="-9" y="-6" width="18" height="12" fill="#fff"/><text x="0" y="4.5" font-size="12.5" text-anchor="middle">28</text></g>
<g transform="translate(409.5,235.0) rotate(8.0)"><rect x="-9" y="-6" width="18" height="12" fill="#fff"/><text x="0" y="4.5" font-size="12.5" text-anchor="middle">26</text></g>
<g transform="translate(383.8,292.5) rotate(-60.0)"><rect x="-9" y="-6" width="18" height="12" fill="#fff"/><text x="0" y="4.5" font-size="12.5" text-anchor="middle">24</text></g>
<g transform="translate(453.8,328.8) rotate(8.0)"><rect x="-9" y="-6" width="18" height="12" fill="#fff"/><text x="0" y="4.5" font-size="12.5" text-anchor="middle">22</text></g>
<g transform="translate(621.2,146.2) rotate(3.0)"><rect x="-9" y="-6" width="18" height="12" fill="#fff"/><text x="0" y="4.5" font-size="12.5" text-anchor="middle">30</text></g>
<g transform="translate(675.5,180.5) rotate(-12.0)"><rect x="-9" y="-6" width="18" height="12" fill="#fff"/><text x="0" y="4.5" font-size="12.5" text-anchor="middle">28</text></g>
<g transform="translate(681.2,235.0) rotate(-5.0)"><rect x="-9" y="-6" width="18" height="12" fill="#fff"/><text x="0" y="4.5" font-size="12.5" text-anchor="middle">26</text></g>
<g transform="translate(621.2,295.0) rotate(5.0)"><rect x="-9" y="-6" width="18" height="12" fill="#fff"/><text x="0" y="4.5" font-size="12.5" text-anchor="middle">24</text></g>
<g transform="translate(652.0,323.8) rotate(-15.0)"><rect x="-9" y="-6" width="18" height="12" fill="#fff"/><text x="0" y="4.5" font-size="12.5" text-anchor="middle">22</text></g>
<g transform="translate(262.0,365.0) rotate(-55.0)"><rect x="-9" y="-6" width="18" height="12" fill="#fff"/><text x="0" y="4.5" font-size="12.5" text-anchor="middle">24</text></g>
<g transform="translate(257.0,431.2) rotate(-65.0)"><rect x="-9" y="-6" width="18" height="12" fill="#fff"/><text x="0" y="4.5" font-size="12.5" text-anchor="middle">22</text></g>
<g transform="translate(431.2,419.5) rotate(-50.0)"><rect x="-9" y="-6" width="18" height="12" fill="#fff"/><text x="0" y="4.5" font-size="12.5" text-anchor="middle">20</text></g>
<g transform="translate(681.2,367.5) rotate(10.0)"><rect x="-9" y="-6" width="18" height="12" fill="#fff"/><text x="0" y="4.5" font-size="12.5" text-anchor="middle">20</text></g>
<g transform="translate(682.5,426.2) rotate(0.0)"><rect x="-9" y="-6" width="18" height="12" fill="#fff"/><text x="0" y="4.5" font-size="12.5" text-anchor="middle">18</text></g>
<g transform="translate(690.0,527.5) rotate(-85.0)"><rect x="-9" y="-6" width="18" height="12" fill="#fff"/><text x="0" y="4.5" font-size="12.5" text-anchor="middle">16</text></g>
<g transform="translate(535.5,572.0) rotate(40.0)"><rect x="-9" y="-6" width="18" height="12" fill="#fff"/><text x="0" y="4.5" font-size="12.5" text-anchor="middle">18</text></g>
<g transform="translate(537.5,666.2) rotate(-80.0)"><rect x="-9" y="-6" width="18" height="12" fill="#fff"/><text x="0" y="4.5" font-size="12.5" text-anchor="middle">16</text></g>
<g stroke="#000" fill="none" shape-rendering="crispEdges">
<rect x="90.10" y="109.75" width="818.90" height="614.00" stroke-width="2"/>
<line x1="136.9" y1="723.8" x2="136.9" y2="713.8" stroke-width="1"/>
<line x1="136.9" y1="109.8" x2="136.9" y2="119.8" stroke-width="1"/>
<line x1="183.7" y1="723.8" x2="183.7" y2="713.8" stroke-width="1"/>
<line x1="183.7" y1="109.8" x2="183.7" y2="119.8" stroke-width="1"/>
<line x1="230.5" y1="723.8" x2="230.5" y2="703.8" stroke-width="2"/>
<line x1="230.5" y1="109.8" x2="230.5" y2="129.8" stroke-width="2"/>
<line x1="277.3" y1="723.8" x2="277.3" y2="713.8" stroke-width="1"/>
<line x1="277.3" y1="109.8" x2="277.3" y2="119.8" stroke-width="1"/>
<line x1="324.1" y1="723.8" x2="324.1" y2="713.8" stroke-width="1"/>
<line x1="324.1" y1="109.8" x2="324.1" y2="119.8" stroke-width="1"/>
<line x1="370.9" y1="723.8" x2="370.9" y2="703.8" stroke-width="2"/>
<line x1="370.9" y1="109.8" x2="370.9" y2="129.8" stroke-width="2"/>
<line x1="417.7" y1="723.8" x2="417.7" y2="713.8" stroke-width="1"/>
<line x1="417.7" y1="109.8" x2="417.7" y2="119.8" stroke-width="1"/>
<line x1="464.5" y1="723.8" x2="464.5" y2="713.8" stroke-width="1"/>
<line x1="464.5" y1="109.8" x2="464.5" y2="119.8" stroke-width="1"/>
<line x1="511.3" y1="723.8" x2="511.3" y2="703.8" stroke-width="2"/>
<line x1="511.3" y1="109.8" x2="511.3" y2="129.8" stroke-width="2"/>
<line x1="558.1" y1="723.8" x2="558.1" y2="713.8" stroke-width="1"/>
<line x1="558.1" y1="109.8" x2="558.1" y2="119.8" stroke-width="1"/>
<line x1="604.9" y1="723.8" x2="604.9" y2="713.8" stroke-width="1"/>
<line x1="604.9" y1="109.8" x2="604.9" y2="119.8" stroke-width="1"/>
<line x1="651.7" y1="723.8" x2="651.7" y2="703.8" stroke-width="2"/>
<line x1="651.7" y1="109.8" x2="651.7" y2="129.8" stroke-width="2"/>
<line x1="698.5" y1="723.8" x2="698.5" y2="713.8" stroke-width="1"/>
<line x1="698.5" y1="109.8" x2="698.5" y2="119.8" stroke-width="1"/>
<line x1="745.3" y1="723.8" x2="745.3" y2="713.8" stroke-width="1"/>
<line x1="745.3" y1="109.8" x2="745.3" y2="119.8" stroke-width="1"/>
<line x1="792.1" y1="723.8" x2="792.1" y2="703.8" stroke-width="2"/>
<line x1="792.1" y1="109.8" x2="792.1" y2="129.8" stroke-width="2"/>
<line x1="838.9" y1="723.8" x2="838.9" y2="713.8" stroke-width="1"/>
<line x1="838.9" y1="109.8" x2="838.9" y2="119.8" stroke-width="1"/>
<line x1="885.7" y1="723.8" x2="885.7" y2="713.8" stroke-width="1"/>
<line x1="885.7" y1="109.8" x2="885.7" y2="119.8" stroke-width="1"/>
<line x1="90.1" y1="690.2" x2="104.1" y2="690.2" stroke-width="1"/>
<line x1="909.0" y1="690.2" x2="895.0" y2="690.2" stroke-width="1"/>
<line x1="90.1" y1="656.1" x2="104.1" y2="656.1" stroke-width="1"/>
<line x1="909.0" y1="656.1" x2="895.0" y2="656.1" stroke-width="1"/>
<line x1="90.1" y1="621.9" x2="118.1" y2="621.9" stroke-width="2"/>
<line x1="909.0" y1="621.9" x2="881.0" y2="621.9" stroke-width="2"/>
<line x1="90.1" y1="587.7" x2="104.1" y2="587.7" stroke-width="1"/>
<line x1="909.0" y1="587.7" x2="895.0" y2="587.7" stroke-width="1"/>
<line x1="90.1" y1="553.5" x2="104.1" y2="553.5" stroke-width="1"/>
<line x1="909.0" y1="553.5" x2="895.0" y2="553.5" stroke-width="1"/>
<line x1="90.1" y1="519.4" x2="118.1" y2="519.4" stroke-width="2"/>
<line x1="909.0" y1="519.4" x2="881.0" y2="519.4" stroke-width="2"/>
<line x1="90.1" y1="485.2" x2="104.1" y2="485.2" stroke-width="1"/>
<line x1="909.0" y1="485.2" x2="895.0" y2="485.2" stroke-width="1"/>
<line x1="90.1" y1="451.0" x2="104.1" y2="451.0" stroke-width="1"/>
<line x1="909.0" y1="451.0" x2="895.0" y2="451.0" stroke-width="1"/>
<line x1="90.1" y1="416.9" x2="118.1" y2="416.9" stroke-width="2"/>
<line x1="909.0" y1="416.9" x2="881.0" y2="416.9" stroke-width="2"/>
<line x1="90.1" y1="382.7" x2="104.1" y2="382.7" stroke-width="1"/>
<line x1="909.0" y1="382.7" x2="895.0" y2="382.7" stroke-width="1"/>
<line x1="90.1" y1="348.5" x2="104.1" y2="348.5" stroke-width="1"/>
<line x1="909.0" y1="348.5" x2="895.0" y2="348.5" stroke-width="1"/>
<line x1="90.1" y1="314.4" x2="118.1" y2="314.4" stroke-width="2"/>
<line x1="909.0" y1="314.4" x2="881.0" y2="314.4" stroke-width="2"/>
<line x1="90.1" y1="280.2" x2="104.1" y2="280.2" stroke-width="1"/>
<line x1="909.0" y1="280.2" x2="895.0" y2="280.2" stroke-width="1"/>
<line x1="90.1" y1="246.0" x2="104.1" y2="246.0" stroke-width="1"/>
<line x1="909.0" y1="246.0" x2="895.0" y2="246.0" stroke-width="1"/>
<line x1="90.1" y1="211.8" x2="118.1" y2="211.8" stroke-width="2"/>
<line x1="909.0" y1="211.8" x2="881.0" y2="211.8" stroke-width="2"/>
<line x1="90.1" y1="177.7" x2="104.1" y2="177.7" stroke-width="1"/>
<line x1="909.0" y1="177.7" x2="895.0" y2="177.7" stroke-width="1"/>
<line x1="90.1" y1="143.5" x2="104.1" y2="143.5" stroke-width="1"/>
<line x1="909.0" y1="143.5" x2="895.0" y2="143.5" stroke-width="1"/>
</g>
<g stroke="#000" stroke-width="0.5" stroke-linejoin="round">
<text transform="translate(83,734.9) scale(1.07,1)" font-size="27" text-anchor="end">0</text>
<text transform="translate(83,632.4) scale(1.07,1)" font-size="27" text-anchor="end">3</text>
<text transform="translate(83,529.9) scale(1.07,1)" font-size="27" text-anchor="end">6</text>
<text transform="translate(83,427.4) scale(1.07,1)" font-size="27" text-anchor="end">9</text>
<text transform="translate(83,324.9) scale(1.07,1)" font-size="27" text-anchor="end">12</text>
<text transform="translate(83,222.3) scale(1.07,1)" font-size="27" text-anchor="end">15</text>
<text transform="translate(83,119.8) scale(1.07,1)" font-size="27" text-anchor="end">18</text>
<text transform="translate(90.50,755) scale(1.1,1)" font-size="27" text-anchor="middle">0</text>
<text transform="translate(230.90,755) scale(1.1,1)" font-size="27" text-anchor="middle">30</text>
<text transform="translate(371.30,755) scale(1.1,1)" font-size="27" text-anchor="middle">60</text>
<text transform="translate(511.70,755) scale(1.1,1)" font-size="27" text-anchor="middle">90</text>
<text transform="translate(652.10,755) scale(1.1,1)" font-size="27" text-anchor="middle">120</text>
<text transform="translate(792.50,755) scale(1.1,1)" font-size="27" text-anchor="middle">150</text>
<text x="415.5" y="786" font-size="26.5" textLength="170" lengthAdjust="spacingAndGlyphs">Distance [nm]</text>
<text transform="translate(34,507) rotate(-90)" font-size="26.5" textLength="178" lengthAdjust="spacingAndGlyphs">Height [Kft MSL]</text>
</g>
<text x="218" y="57.5" font-size="22.5" font-weight="bold" stroke="#000" stroke-width="0.35" textLength="532.5" lengthAdjust="spacingAndGlyphs">Angled Section: Vertical Velocity &amp; Pot.Temp.</text>
<text x="760" y="54.5" font-size="13" font-weight="bold" textLength="20.5" lengthAdjust="spacingAndGlyphs">(C)</text>
<g stroke="#000" stroke-width="0.35">
<text x="251" y="76.5" font-size="20.5" textLength="136" lengthAdjust="spacingAndGlyphs">Valid 1500 JST</text>
<text x="395.5" y="75.5" font-size="14.5" stroke-width="0.5" textLength="53" lengthAdjust="spacingAndGlyphs">(0600Z)</text>
<text x="456" y="76.5" font-size="20.5" textLength="158.5" lengthAdjust="spacingAndGlyphs">THU 30 Mar 2017</text>
<text x="623.5" y="76" font-size="15.5" stroke-width="0.45" textLength="126" lengthAdjust="spacingAndGlyphs">[12hrFcst@2152z]</text>
</g>
<text x="426" y="88.5" font-size="12.5" stroke="#000" stroke-width="0.5" textLength="147" lengthAdjust="spacingAndGlyphs">slice X,Y= 34,23@45&#176;</text>
<g shape-rendering="crispEdges">
<rect x="133.00" y="816.0" width="38.63" height="8.0" fill="#0000e6" stroke="#000" stroke-width="1"/>
<rect x="171.63" y="816.0" width="38.63" height="8.0" fill="#0050f0" stroke="#000" stroke-width="1"/>
<rect x="210.26" y="816.0" width="38.63" height="8.0" fill="#00a0f0" stroke="#000" stroke-width="1"/>
<rect x="248.89" y="816.0" width="38.63" height="8.0" fill="#00f0f0" stroke="#000" stroke-width="1"/>
<rect x="287.53" y="816.0" width="38.63" height="8.0" fill="#00e6aa" stroke="#000" stroke-width="1"/>
<rect x="326.16" y="816.0" width="38.63" height="8.0" fill="#00c85a" stroke="#000" stroke-width="1"/>
<rect x="364.79" y="816.0" width="38.63" height="8.0" fill="#00aa14" stroke="#000" stroke-width="1"/>
<rect x="403.42" y="816.0" width="38.63" height="8.0" fill="#50c814" stroke="#000" stroke-width="1"/>
<rect x="442.05" y="816.0" width="38.63" height="8.0" fill="#a0e10f" stroke="#000" stroke-width="1"/>
<rect x="480.68" y="816.0" width="38.63" height="8.0" fill="#fafa00" stroke="#000" stroke-width="1"/>
<rect x="519.32" y="816.0" width="38.63" height="8.0" fill="#ffe400" stroke="#000" stroke-width="1"/>
<rect x="557.95" y="816.0" width="38.63" height="8.0" fill="#ffc800" stroke="#000" stroke-width="1"/>
<rect x="596.58" y="816.0" width="38.63" height="8.0" fill="#ffa800" stroke="#000" stroke-width="1"/>
<rect x="635.21" y="816.0" width="38.63" height="8.0" fill="#ff7800" stroke="#000" stroke-width="1"/>
<rect x="673.84" y="816.0" width="38.63" height="8.0" fill="#ff3c00" stroke="#000" stroke-width="1"/>
<rect x="712.47" y="816.0" width="38.63" height="8.0" fill="#f0000a" stroke="#000" stroke-width="1"/>
<rect x="751.11" y="816.0" width="38.63" height="8.0" fill="#c80032" stroke="#000" stroke-width="1"/>
<rect x="789.74" y="816.0" width="38.63" height="8.0" fill="#960064" stroke="#000" stroke-width="1"/>
<rect x="828.37" y="816.0" width="38.63" height="8.0" fill="#5a0096" stroke="#000" stroke-width="1"/>
</g>
<text transform="translate(133.5,843.4) scale(1.08,1)" font-size="19.5" text-anchor="middle" stroke="#000" stroke-width="0.4">-220</text>
<text transform="translate(249.4,843.4) scale(1.08,1)" font-size="19.5" text-anchor="middle" stroke="#000" stroke-width="0.4">-160</text>
<text transform="translate(365.3,843.4) scale(1.08,1)" font-size="19.5" text-anchor="middle" stroke="#000" stroke-width="0.4">-100</text>
<text transform="translate(481.2,843.4) scale(1.08,1)" font-size="19.5" text-anchor="middle" stroke="#000" stroke-width="0.4">-40</text>
<text transform="translate(597.1,843.4) scale(1.08,1)" font-size="19.5" text-anchor="middle" stroke="#000" stroke-width="0.4">20</text>
<text transform="translate(713.0,843.4) scale(1.08,1)" font-size="19.5" text-anchor="middle" stroke="#000" stroke-width="0.4">80</text>
<text transform="translate(828.9,843.4) scale(1.08,1)" font-size="19.5" text-anchor="middle" stroke="#000" stroke-width="0.4">140</text>
<text x="396" y="880" font-size="19" stroke="#000" stroke-width="0.5" textLength="208" lengthAdjust="spacingAndGlyphs">Vertical Velocity [cm/s]</text>
</svg></body></html>
